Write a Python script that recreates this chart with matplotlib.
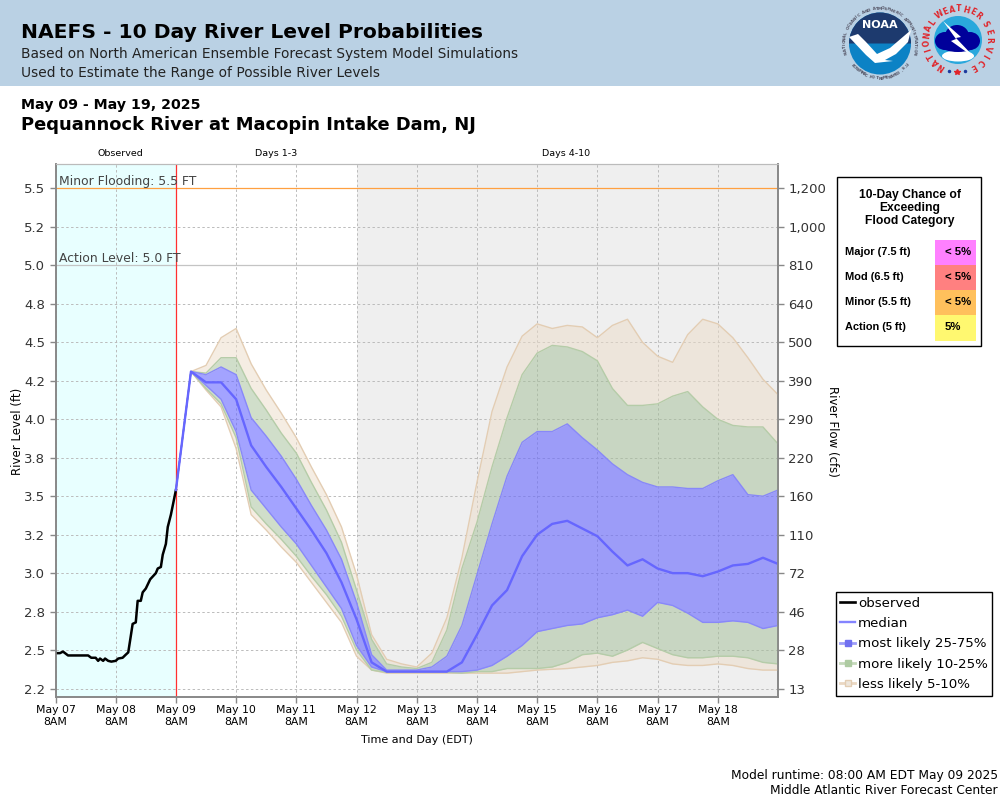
import numpy as np
import matplotlib
matplotlib.use("Agg")
import matplotlib.pyplot as plt
from matplotlib.lines import Line2D
from matplotlib.patches import Circle, Ellipse, Polygon, Rectangle, Wedge

# observed stage, hours after May 07 8AM
obs_hours = [0, 1.75, 3, 5, 13, 14.25, 16, 17, 17.75, 19, 19.75, 21, 22.25, 24, 25, 26.75, 28, 29,
             30, 30.75, 32, 32.75, 34, 34.75, 36, 37.75, 40, 40.75, 42, 42.75, 44, 44.75, 46, 48]
obs_level = [2.48, 2.48, 2.49, 2.465, 2.465, 2.45, 2.45, 2.43, 2.445, 2.43, 2.445, 2.43, 2.425, 2.43, 2.445, 2.45, 2.47, 2.485,
             2.59, 2.67, 2.68, 2.82, 2.82, 2.875, 2.90, 2.96, 3.0, 3.03, 3.04, 3.12, 3.19, 3.30, 3.38, 3.54]

# forecast, every 6 hours from May 09 8AM
fc_hours = list(range(48, 289, 6))
q95 = [3.54, 4.31, 4.35, 4.53, 4.59, 4.36, 4.19, 4.04, 3.88, 3.69, 3.51, 3.30, 2.99, 2.60, 2.44, 2.41, 2.39, 2.48, 2.71, 3.10, 3.59,
       4.05, 4.34, 4.54, 4.62, 4.59, 4.61, 4.60, 4.53, 4.61, 4.65, 4.50, 4.41, 4.37, 4.55, 4.65, 4.62, 4.53, 4.40, 4.26, 4.16]
q90 = [3.54, 4.31, 4.30, 4.40, 4.40, 4.20, 4.06, 3.91, 3.78, 3.59, 3.41, 3.20, 2.89, 2.57, 2.41, 2.39, 2.38, 2.42, 2.63, 3.03, 3.33,
       3.69, 4.01, 4.29, 4.43, 4.48, 4.47, 4.44, 4.38, 4.20, 4.09, 4.09, 4.10, 4.15, 4.18, 4.08, 4.00, 3.96, 3.95, 3.95, 3.84]
q75 = [3.54, 4.31, 4.29, 4.34, 4.29, 4.01, 3.89, 3.76, 3.61, 3.44, 3.28, 3.09, 2.81, 2.47, 2.37, 2.37, 2.37, 2.39, 2.46, 2.66, 2.99,
       3.32, 3.63, 3.85, 3.92, 3.92, 3.97, 3.88, 3.80, 3.71, 3.64, 3.59, 3.56, 3.56, 3.55, 3.55, 3.60, 3.64, 3.51, 3.50, 3.54]
median = [3.54, 4.31, 4.24, 4.24, 4.13, 3.83, 3.69, 3.56, 3.42, 3.28, 3.13, 2.94, 2.70, 2.42, 2.36, 2.36, 2.36, 2.36, 2.36, 2.42, 2.60,
          2.79, 2.89, 3.11, 3.25, 3.32, 3.34, 3.29, 3.24, 3.14, 3.05, 3.09, 3.03, 3.00, 3.00, 2.98, 3.01, 3.05, 3.06, 3.10, 3.06]
q25 = [3.54, 4.31, 4.22, 4.13, 3.92, 3.54, 3.42, 3.30, 3.19, 3.05, 2.91, 2.77, 2.53, 2.39, 2.36, 2.36, 2.36, 2.36, 2.36, 2.36, 2.37,
       2.40, 2.46, 2.53, 2.62, 2.64, 2.66, 2.67, 2.71, 2.73, 2.76, 2.72, 2.81, 2.79, 2.74, 2.68, 2.68, 2.69, 2.68, 2.64, 2.66]
q10 = [3.54, 4.31, 4.20, 4.10, 3.88, 3.43, 3.32, 3.22, 3.11, 2.98, 2.86, 2.72, 2.50, 2.37, 2.355, 2.355, 2.355, 2.355, 2.355, 2.35, 2.36,
       2.36, 2.38, 2.38, 2.38, 2.39, 2.42, 2.47, 2.48, 2.46, 2.50, 2.55, 2.51, 2.47, 2.45, 2.45, 2.46, 2.46, 2.45, 2.42, 2.41]
q05 = [3.54, 4.31, 4.19, 4.08, 3.81, 3.38, 3.28, 3.17, 3.07, 2.94, 2.81, 2.68, 2.46, 2.37, 2.35, 2.35, 2.35, 2.35, 2.35, 2.35, 2.35,
       2.35, 2.35, 2.36, 2.37, 2.375, 2.38, 2.39, 2.40, 2.42, 2.43, 2.45, 2.44, 2.41, 2.40, 2.40, 2.41, 2.40, 2.38, 2.37, 2.37]

level_ticks = [5.5, 5.25, 5.0, 4.75, 4.5, 4.25, 4.0, 3.75, 3.5, 3.25, 3.0, 2.75, 2.5, 2.25]
level_labels = ["5.5", "5.2", "5.0", "4.8", "4.5", "4.2", "4.0", "3.8", "3.5", "3.2", "3.0", "2.8", "2.5", "2.2"]
flow_labels = ["1,200", "1,000", "810", "640", "500", "390", "290", "220", "160", "110", "72", "46", "28", "13"]
time_ticks = list(range(0, 265, 24))
time_labels = ["May 07\n8AM", "May 08\n8AM", "May 09\n8AM", "May 10\n8AM", "May 11\n8AM", "May 12\n8AM",
               "May 13\n8AM", "May 14\n8AM", "May 15\n8AM", "May 16\n8AM", "May 17\n8AM", "May 18\n8AM"]

chance_names = ["Major (7.5 ft)", "Mod (6.5 ft)", "Minor (5.5 ft)", "Action (5 ft)"]
chance_values = ["< 5%", "< 5%", "< 5%", "5%"]
chance_colors = ["#FF80FF", "#FF8080", "#FFC05C", "#FFF870"]

TAN, GREEN, BLUE = "#EDDDC9", "#A3BF97", "#6666FF"
TAN_EDGE, GREEN_EDGE, BLUE_EDGE = "#E3CDB3", "#B5CCA8", "#8888F8"

fig = plt.figure(figsize=(10, 8), dpi=100)

# whole figure in pixel coordinates for header, panel and logos
bg = fig.add_axes([0, 0, 1, 1])
bg.set_xlim(0, 1000)
bg.set_ylim(800, 0)
bg.axis("off")
bg.add_patch(Rectangle((0, 0), 1000, 86, color="#BAD1E4", lw=0))


def ring_text(text, cx, cy, r, start, end, color, size, bottom=False):
    # one rotated letter at a time round a circle
    for t, ch in zip(np.linspace(start, end, len(text)), text):
        a = np.radians(t)
        bg.text(cx + r * np.sin(a), cy - r * np.cos(a), ch, color=color, fontsize=size, fontweight="bold",
                ha="center", va="center", rotation=(180 - t if bottom else -t))


# NOAA logo
bg.add_patch(Circle((880, 43.5), 31, color="#0C82C5", lw=0))
bg.add_patch(Wedge((880, 43.5), 31, 180, 360, color="#1D3A6E", lw=0))
bg.add_patch(Polygon([(849, 37), (858, 34), (866, 42), (877, 54), (890, 48), (911, 30), (908, 42),
                      (896, 54), (885, 60), (893, 61), (875, 63), (866, 55)], color="white", lw=0))
bg.text(880, 25, "NOAA", color="white", fontsize=8, fontweight="bold", ha="center", va="center")
ring_text("NATIONAL OCEANIC AND ATMOSPHERIC ADMINISTRATION", 880, 43.5, 35, -105, 105, "#555566", 3)
ring_text("U.S. DEPARTMENT OF COMMERCE", 880, 43.5, 35, 128, 232, "#555566", 3, bottom=True)

# NWS logo
bg.add_patch(Circle((958, 40), 24, color="#2AA8DC", lw=0))
bg.add_patch(Ellipse((958, 56), 32, 11, color="white", lw=0))
for ex, ey, ew, eh in [(945, 41, 20, 18), (957, 36, 24, 22), (970, 41, 20, 18), (958, 46, 34, 12)]:
    bg.add_patch(Ellipse((ex, ey), ew, eh, color="#00009A", lw=0))
bg.add_patch(Polygon([(943, 21), (961, 37), (956, 38), (975, 58), (951, 41), (956, 39)], color="white", lw=0))
ring_text("NATIONAL", 958, 40, 31, -148, -55, "#E0242A", 5.5)
ring_text("WEATHER", 958, 40, 31, -36, 40, "#E0242A", 5.5)
ring_text("SERVICE", 958, 40, 31, 60, 150, "#E0242A", 5.5)
bg.plot([949, 965], [71, 71], ls="none", marker="o", ms=1.5, color="#1D3A9E")
bg.plot([957], [72], ls="none", marker="*", ms=4, color="#E0242A")

# header and title text
bg.text(21, 33, "NAEFS - 10 Day River Level Probabilities", fontsize=14.6, fontweight="bold", va="center")
bg.text(21, 54, "Based on North American Ensemble Forecast System Model Simulations", fontsize=9.9, color="#222222", va="center")
bg.text(21, 73, "Used to Estimate the Range of Possible River Levels", fontsize=9.9, color="#222222", va="center")
bg.text(21, 105, "May 09 - May 19, 2025", fontsize=10.2, fontweight="bold", va="center")
bg.text(21, 125, "Pequannock River at Macopin Intake Dam, NJ", fontsize=12.9, fontweight="bold", va="center")
bg.text(120, 154, "Observed", fontsize=6.8, ha="center", va="center")
bg.text(276, 154, "Days 1-3", fontsize=6.8, ha="center", va="center")
bg.text(566, 154, "Days 4-10", fontsize=6.8, ha="center", va="center")
bg.text(417, 740, "Time and Day (EDT)", fontsize=8, ha="center", va="center")
bg.text(18, 431, "River Level (ft)", fontsize=8.5, rotation=90, ha="center", va="center")
bg.text(832, 431, "River Flow (cfs)", fontsize=8.5, rotation=270, ha="center", va="center")
bg.text(998, 775, "Model runtime: 08:00 AM EDT May 09 2025", fontsize=8.8, ha="right", va="center")
bg.text(998, 791, "Middle Atlantic River Forecast Center", fontsize=8.8, ha="right", va="center")

# chance of exceeding panel
bg.add_patch(Rectangle((836.5, 176.5), 144, 169, fc="white", ec="black", lw=1))
bg.text(910, 208, "10-Day Chance of\nExceeding\nFlood Category", family="Liberation Sans", fontweight="bold",
        fontsize=8.7, ha="center", va="center", linespacing=1.1)
for i in range(4):
    top = 240 + 25 * i
    bg.add_patch(Rectangle((935, top), 41, 25 + (i == 3), color=chance_colors[i], lw=0))
    bg.text(845, top + 12, chance_names[i], family="Liberation Sans", fontweight="bold", fontsize=7.9, va="center")
    bg.text(945, top + 12, chance_values[i], family="Liberation Sans", fontweight="bold", fontsize=8.2, va="center")

# chart
ax = fig.add_axes([0.0555, 1 - 697 / 800, 0.7225, 533 / 800], zorder=2)
ax.set_xlim(0, 288)
ax.set_ylim(2.195, 5.659)
ax.axvspan(0, 48, color="#E8FFFF", lw=0, zorder=0)
ax.axvspan(120, 288, color="#EFEFEF", lw=0, zorder=0)
ax.grid(True, color="#BBBBBB", ls=(0, (2.5, 2.5)), lw=0.7, zorder=1)
ax.set_axisbelow(True)

ax.axhline(5.5, color="#FFA040", lw=0.9, zorder=2)
ax.axhline(5.0, color="#C4C4C4", lw=0.9, zorder=2)
ax.text(1.5, 5.505, "Minor Flooding: 5.5 FT", fontsize=8.9, color="#444444", va="bottom", zorder=6)
ax.text(1.5, 5.005, "Action Level: 5.0 FT", fontsize=8.9, color="#444444", va="bottom", zorder=6)

ax.fill_between(fc_hours, q90, q95, color=TAN, alpha=0.5, lw=0, zorder=3)
ax.fill_between(fc_hours, q05, q10, color=TAN, alpha=0.5, lw=0, zorder=3)
ax.fill_between(fc_hours, q75, q90, color=GREEN, alpha=0.5, lw=0, zorder=3)
ax.fill_between(fc_hours, q10, q25, color=GREEN, alpha=0.5, lw=0, zorder=3)
ax.fill_between(fc_hours, q25, q75, color=BLUE, alpha=0.6, lw=0, zorder=3)
for band, edge in [(q95, TAN_EDGE), (q05, TAN_EDGE), (q90, GREEN_EDGE), (q10, GREEN_EDGE), (q75, BLUE_EDGE), (q25, BLUE_EDGE)]:
    ax.plot(fc_hours, band, color=edge, lw=1.0, zorder=4)
ax.axvline(48, color="#FF3030", lw=0.9, zorder=4)
ax.plot(obs_hours, obs_level, color="black", lw=1.8, zorder=5)
ax.plot(fc_hours, median, color=BLUE, lw=1.7, zorder=5)

ax.set_xticks(time_ticks)
ax.set_xticklabels(time_labels, fontsize=7.8, linespacing=1.25)
ax.set_yticks(level_ticks)
ax.set_yticklabels(level_labels, fontsize=9.5, color="#333333")
ax.tick_params(axis="both", color="#888888", length=4, width=1)
ax.tick_params(axis="x", pad=2)

flow_ax = ax.twinx()
flow_ax.set_ylim(ax.get_ylim())
flow_ax.set_yticks(level_ticks)
flow_ax.set_yticklabels(flow_labels, fontsize=9.5, color="#333333")
flow_ax.tick_params(axis="y", color="#888888", length=4, width=1)

for a in (ax, flow_ax):
    for side in ("left", "bottom", "right"):
        a.spines[side].set_color("#888888")
        a.spines[side].set_linewidth(1.2)
    a.spines["top"].set_color("#BBBBBB")

handles = [
    Line2D([], [], color="black", lw=1.9),
    Line2D([], [], color=BLUE, lw=1.7, alpha=0.8),
    Line2D([], [], color="#9D9DF9", lw=2, marker="s", ms=5, mfc="#7070F0", mec="#7070F0"),
    Line2D([], [], color="#C4D8BA", lw=2, marker="s", ms=5, mfc="#AECBA2", mec="#AECBA2"),
    Line2D([], [], color="#EAD7C2", lw=2, marker="s", ms=5, mfc="#EEE6DC", mec="#E3CDB3"),
]
leg = fig.legend(handles, ["observed", "median", "most likely 25-75%", "more likely 10-25%", "less likely 5-10%"],
                 loc="lower left", bbox_to_anchor=(835.5 / 1000, 1 - 695.5 / 800), bbox_transform=fig.transFigure,
                 fontsize=9.65, frameon=True, fancybox=False, framealpha=1, edgecolor="black",
                 handlelength=1.15, handletextpad=0.2, labelspacing=0.55, borderpad=0.33, borderaxespad=0)
leg.get_frame().set_linewidth(1)
leg.set_zorder(10)

plt.savefig("out.png", dpi=100)
